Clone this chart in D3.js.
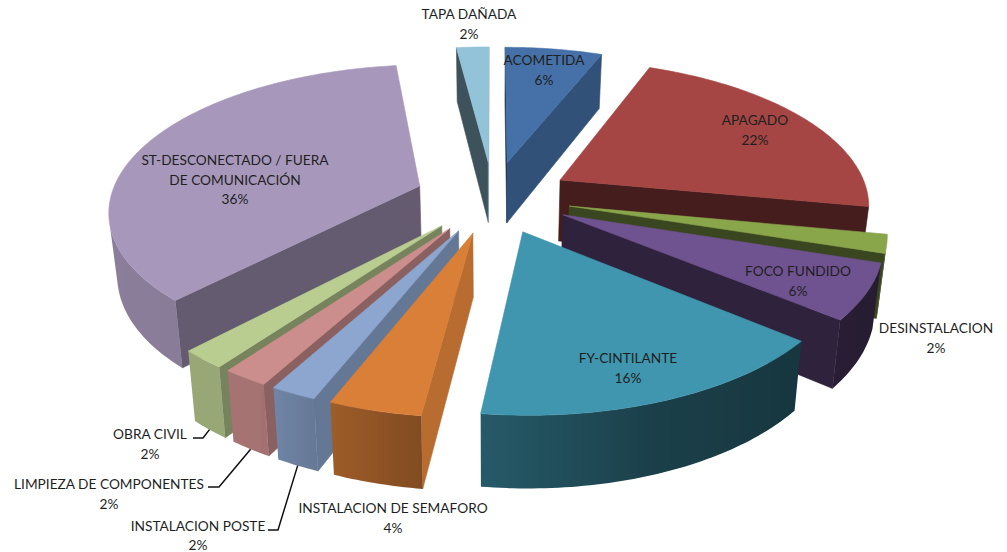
<!DOCTYPE html>
<html>
<head>
<meta charset="utf-8">
<script src="https://cdn.jsdelivr.net/npm/d3@7/dist/d3.min.js"></script>
<style>
  html, body { margin: 0; padding: 0; background: #fff; }
  text { font-family: Lato, "Open Sans", sans-serif; font-size: 13.7px; fill: #1f1f1f; }
</style>
</head>
<body>
<svg id="chart" width="1007" height="552"></svg>
<script>
// values, clockwise from 12 o'clock
const categories = ['ACOMETIDA', 'APAGADO', 'DESINSTALACION', 'FOCO FUNDIDO', 'FY-CINTILANTE',
  'INSTALACION DE SEMAFORO', 'INSTALACION POSTE', 'LIMPIEZA DE COMPONENTES', 'OBRA CIVIL',
  'ST-DESCONECTADO / FUERA DE COMUNICACIÓN', 'TAPA DAÑADA'];
const percents = [6, 22, 2, 6, 16, 4, 2, 2, 2, 36, 2];
const sliceColors = ['#4571a8', '#a54644', '#8aa64b', '#6f5290', '#3f96ae', '#d97f38',
  '#8ca6cf', '#cc8e8d', '#bacd90', '#a798bb', '#93c3d8'];

// label placement, one row per category: centre x, first line y, text lines
const labelLayout = [
  [544, 60, ['ACOMETIDA', '6%']],
  [755, 120, ['APAGADO', '22%']],
  [936, 328, ['DESINSTALACION', '2%']],
  [798, 271, ['FOCO FUNDIDO', '6%']],
  [628, 358, ['FY-CINTILANTE', '16%']],
  [393, 508, ['INSTALACION DE SEMAFORO', '4%']],
  [198, 525.5, ['INSTALACION POSTE', '2%']],
  [109, 484, ['LIMPIEZA DE COMPONENTES', '2%']],
  [150, 434, ['OBRA CIVIL', '2%']],
  [235, 160, ['ST-DESCONECTADO / FUERA', 'DE COMUNICACIÓN', '36%']],
  [469, 14, ['TAPA DAÑADA', '2%']]
];
// leader lines: category index, start of the line, elbow
const leaders = [
  [8, [193, 438], [203, 438]],
  [7, [208, 487], [219, 487]],
  [6, [268, 530], [278, 530]]
];

//projection of the tilted pie
const CX = 493, CY = 197;
const RADIUS = 309;
const EXPLODE = 78;
const DEPTH = 62;
const TILT = 0.463;     // vertical squash of the pie plane
const PERSP = 0.0005;   // perspective along the ground plane

function project(X, Y, bottom) {
  const w = 1 + PERSP * Y;
  const shrink = bottom ? 0.978 : 1;
  return [
    CX + (X / w) * shrink,
    CY - TILT * Y / w + (bottom ? DEPTH / (1 + 0.8 * PERSP * Y) : 0)
  ];
}

// ground position of a point on a slice (angle clockwise from north)
function slicePoint(s, angle, r, bottom) {
  const mid = (s.startAngle + s.endAngle) / 2;
  const X = EXPLODE * Math.sin(mid) + r * Math.sin(angle);
  const Y = EXPLODE * Math.cos(mid) + r * Math.cos(angle);
  return project(X, Y, bottom);
}

// d3.polygonArea is positive for walls that face the viewer here
function isFront(pts) {
  return d3.polygonArea(pts) > 0;
}

function shade(color, f) {
  const c = d3.rgb(color);
  return d3.rgb(c.r * f, c.g * f, c.b * f).formatHex();
}

// light comes from the front left, the right side of the pie stays dark
const outerShade = d3.scaleLinear()
  .domain([100, 130, 160, 190, 210, 270])
  .range([0.34, 0.36, 0.42, 0.62, 0.81, 0.84])
  .clamp(true);
const cutShade = d3.scaleLinear()
  .domain([97, 111, 133, 190, 263])
  .range([0.85, 0.72, 0.6, 0.42, 0.42])
  .clamp(true);

const slices = d3.pie().sort(null).value(d => d)(percents)
  .map((s, i) => ({ ...s, index: i, color: sliceColors[i], layout: labelLayout[i], name: categories[i] }));

const svg = d3.select('#chart');
const defs = svg.append('defs');
const line = d3.line();
const polyPath = pts => line(pts) + 'Z';
const pieG = svg.append('g').attr('class', 'pie');

// back slices first, the front ones paint over them
const drawOrder = slices.slice().sort((a, b) =>
  Math.cos((b.startAngle + b.endAngle) / 2) - Math.cos((a.startAngle + a.endAngle) / 2));

drawOrder.forEach(s => {
  const g = pieG.append('g').attr('class', 'slice');
  const step = Math.PI / 180;
  const n = Math.max(2, Math.ceil((s.endAngle - s.startAngle) / step));
  const angles = d3.range(n + 1).map(i => s.startAngle + (s.endAngle - s.startAngle) * i / n);

  function face(pts, fill, stroke) {
    g.append('path').attr('d', polyPath(pts)).attr('fill', fill)
      .attr('stroke', stroke || fill).attr('stroke-width', 0.6).attr('stroke-linejoin', 'round');
  }

  // cut faces
  [[s.startAngle, true], [s.endAngle, false]].forEach(([a, isStart]) => {
    const apexT = slicePoint(s, 0, 0, false), apexB = slicePoint(s, 0, 0, true);
    const outT = slicePoint(s, a, RADIUS, false), outB = slicePoint(s, a, RADIUS, true);
    const quad = isStart ? [apexT, outT, outB, apexB] : [outT, apexT, apexB, outB];
    if (!isFront(quad)) return;
    let normal = (a * 180 / Math.PI) + (isStart ? -90 : 90);
    normal = (normal + 360) % 360;
    face(quad, shade(s.color, cutShade(normal)));
  });

  // outer curved wall: the visible run of the arc as one shape with a left-right gradient
  const visible = d3.pairs(angles).filter(([a0, a1]) => isFront([
    slicePoint(s, a0, RADIUS, false), slicePoint(s, a1, RADIUS, false),
    slicePoint(s, a1, RADIUS, true), slicePoint(s, a0, RADIUS, true)]));
  if (visible.length) {
    const run = [visible[0][0]].concat(visible.map(d => d[1]));
    const topEdge = run.map(a => slicePoint(s, a, RADIUS, false));
    const bottomEdge = run.map(a => slicePoint(s, a, RADIUS, true)).reverse();
    const xs = d3.extent(topEdge.concat(bottomEdge), d => d[0]);
    const offset = d3.scaleLinear().domain(xs).range([0, 1]);
    const gradId = `wall-${s.index}`;
    const grad = defs.append('linearGradient').attr('id', gradId)
      .attr('gradientUnits', 'userSpaceOnUse')
      .attr('x1', xs[0]).attr('x2', xs[1]).attr('y1', 0).attr('y2', 0);
    run.map(a => ({ x: slicePoint(s, a, RADIUS, false)[0], az: a * 180 / Math.PI }))
      .sort((p, q) => p.x - q.x)
      .forEach(p => grad.append('stop')
        .attr('offset', offset(p.x))
        .attr('stop-color', shade(s.color, outerShade(p.az))));
    g.append('path').attr('d', polyPath(topEdge.concat(bottomEdge))).attr('fill', `url(#${gradId})`);
  }

  // top
  const top = [slicePoint(s, 0, 0, false)].concat(angles.map(a => slicePoint(s, a, RADIUS, false)));
  face(top, s.color);
});

// leader lines end on the bottom edge of their slice
leaders.forEach(([i, start, elbow]) => {
  const s = slices[i];
  const end = slicePoint(s, (s.startAngle + s.endAngle) / 2, RADIUS, true);
  svg.append('path')
    .attr('d', line([start, elbow, end]))
    .attr('fill', 'none')
    .attr('stroke', '#111')
    .attr('stroke-width', 1.5);
});

// labels
const labels = svg.append('g').attr('class', 'labels');
slices.forEach(s => {
  const [x, y, lines] = s.layout;
  const t = labels.append('text').attr('text-anchor', 'middle');
  lines.forEach((l, k) => {
    t.append('tspan').attr('x', x).attr('y', y + 5 + k * 19.7).text(l);
  });
});
</script>
</body>
</html>
